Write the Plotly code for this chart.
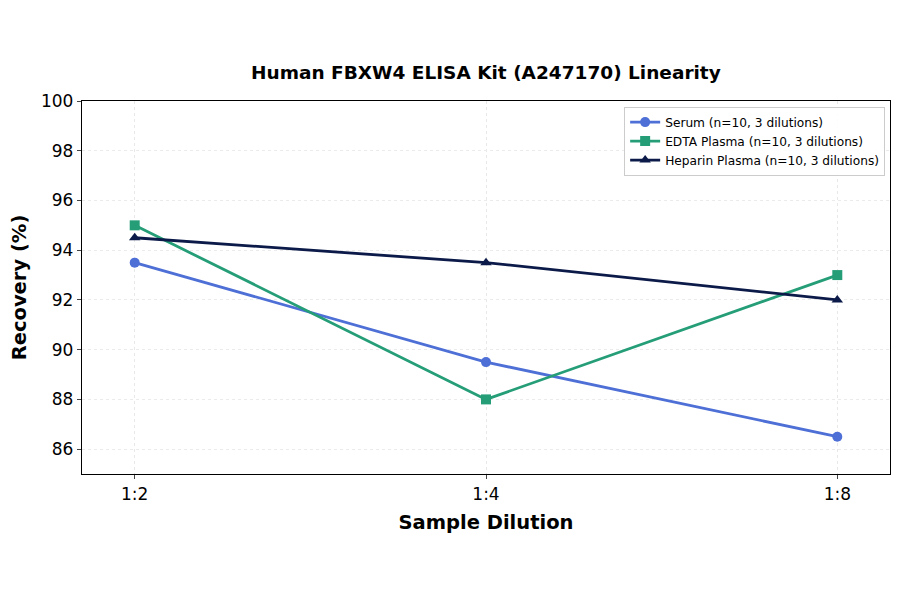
import plotly.graph_objects as go

dilutions = ['1:2', '1:4', '1:8']
serum = [93.5, 89.5, 86.5]
edta = [95.0, 88.0, 93.0]
heparin = [94.5, 93.5, 92.0]

names = ['Serum (n=10, 3 dilutions)', 'EDTA Plasma (n=10, 3 dilutions)', 'Heparin Plasma (n=10, 3 dilutions)']
colors = ['#4d6fd6', '#259e78', '#0b1a48']
symbols = ['circle', 'square', 'triangle-up']

fig = go.Figure()
for vals, name, col, sym in zip([serum, edta, heparin], names, colors, symbols):
    fig.add_trace(go.Scatter(x=list(range(len(dilutions))), y=vals, name=name, mode='lines+markers',
                             line=dict(color=col, width=2.8),
                             marker=dict(symbol=sym, size=10, color=col)))

# page body adds an 8px offset, margins compensate
fig.update_layout(
    width=900, height=594,
    paper_bgcolor='white', plot_bgcolor='white',
    font=dict(family='DejaVu Sans', color='black'),
    margin=dict(l=74, r=18, t=93, b=128, autoexpand=False),
    title=dict(text='<b>Human FBXW4 ELISA Kit (A247170) Linearity</b>', x=0.531, xanchor='center',
               y=0.892, yanchor='middle', font=dict(size=18.5)),
    legend=dict(x=0.994, y=0.985, xanchor='right', yanchor='top', bgcolor='rgba(255,255,255,0.9)',
                bordercolor='#cccccc', borderwidth=1, font=dict(size=12.2), tracegroupgap=0,
                itemwidth=30),
)
fig.update_xaxes(
    range=[-0.15, 2.15], tickmode='array', tickvals=list(range(len(dilutions))), ticktext=dilutions,
    showgrid=True, gridcolor='#e8e8e8', gridwidth=1, griddash='dot',
    showline=True, linecolor='black', linewidth=1.3, mirror=True,
    ticks='outside', ticklen=4, tickfont=dict(size=17), automargin=False,
    title=dict(text='<b>Sample Dilution</b>', font=dict(size=19.5), standoff=12),
    zeroline=False,
)
fig.update_yaxes(
    range=[85, 100], tickmode='array', tickvals=[86, 88, 90, 92, 94, 96, 98, 100],
    showgrid=True, gridcolor='#ebebeb', gridwidth=1, griddash='dot',
    showline=True, linecolor='black', linewidth=1.3, mirror=True,
    ticks='outside', ticklen=4, tickfont=dict(size=17), automargin=False,
    title=dict(text='<b>Recovery (%)</b>', font=dict(size=19.5), standoff=12),
    zeroline=False,
)

fig.write_html('out.html')
